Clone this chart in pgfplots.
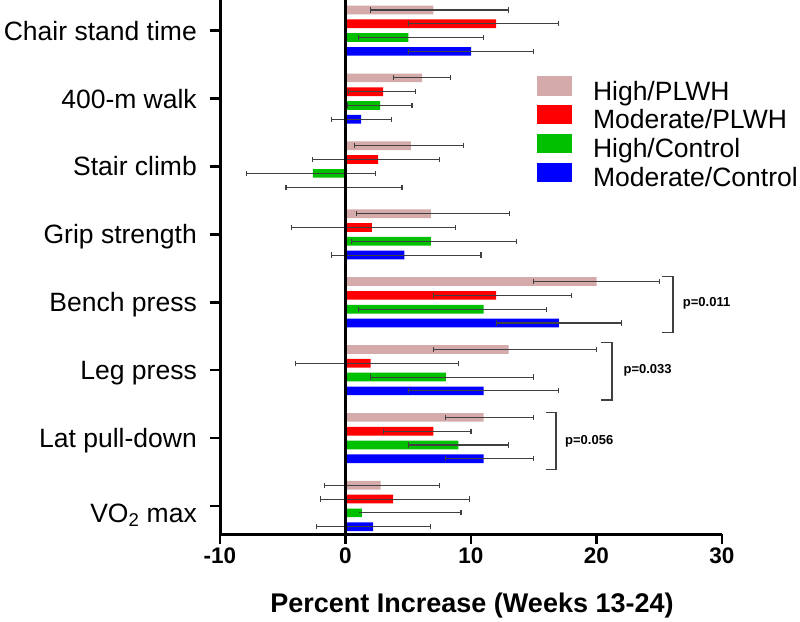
\documentclass[border=0pt]{standalone}
\usepackage{pgfplots}
\pgfplotsset{compat=1.18}
\usepackage{fontspec}
\setmainfont{Liberation Sans}
\definecolor{cpink}{RGB}{212,170,170}
\definecolor{cred}{RGB}{255,0,0}
\definecolor{cgreen}{RGB}{0,192,0}
\definecolor{cblue}{RGB}{0,0,255}
\definecolor{cerr}{RGB}{64,64,64}
\begin{document}
\begin{tikzpicture}
\path[use as bounding box] (0,0) rectangle (800pt,621pt);
\begin{axis}[
  at={(220pt,87pt)}, anchor=south west,
  scale only axis, width=502pt, height=534pt,
  xmin=-10, xmax=30, ymin=-0.413, ymax=7.452,
  clip=false,
  separate axis lines,
  axis x line*=bottom, axis y line*=left,
  axis line style={-, line width=3pt, black},
  xtick={-10,0,10,20,30},
  ytick={0,1,2,3,4,5,6,7},
  yticklabels={\raisebox{-7pt}{VO\textsubscript{2} max},Lat pull-down,Leg press,Bench press,Grip strength,Stair climb,400-m walk,Chair stand time},
  tick align=outside,
  major tick length=10pt,
  tick style={line width=2.5pt, black},
  /pgf/number format/assume math mode=true,
  xticklabel style={font=\bfseries\fontsize{22.5}{23}\selectfont},
  yticklabel style={font=\fontsize{26.5}{27}\selectfont, anchor=east, text height=19pt, text depth=0pt, inner sep=0pt, xshift=-13pt},
  xlabel={\textbf{Percent Increase (Weeks 13-24)}},
  xlabel style={font=\fontsize{27}{28}\selectfont, at={(axis description cs:0.502,-0.1474)}, anchor=base},
  xbar, bar width=8.7pt,
  error bars/x dir=both, error bars/x explicit,
  error bars/error bar style={cerr, line width=1.1pt},
  error bars/error mark options={cerr, line width=1.1pt, mark size=2.6pt, rotate=90},
  legend image code/.code={\fill[#1] (0pt,-1pt) rectangle (35pt,18.6pt);},
  legend style={at={(rel axis cs:0.6315,0.8577)}, anchor=north west, draw=none, fill=none,
    inner sep=0pt, outer sep=0pt, row sep=-4.2pt,
    font=\fontsize{26.5}{29}\selectfont,
    nodes={text height=20pt, text depth=9pt, inner sep=0pt, anchor=west},
    /tikz/every odd column/.append style={column sep=21pt}},
  legend cell align=left,
]
\addplot[fill=cpink, draw=none, bar shift=20.7pt] coordinates {
 (2.8,0) += (4.7,0) -= (4.5,0)
 (11,1) += (4,0) -= (3,0)
 (13,2) += (7,0) -= (6,0)
 (20,3) += (5,0) -= (5,0)
 (6.8,4) += (6.3,0) -= (5.9,0)
 (5.2,5) += (4.2,0) -= (4.5,0)
 (6.1,6) += (2.3,0) -= (2.3,0)
 (7,7) += (6,0) -= (5,0)
};
\addlegendentry{High/PLWH}
\addplot[fill=cred, draw=none, bar shift=6.9pt] coordinates {
 (3.8,0) += (6.1,0) -= (5.8,0)
 (7,1) += (3,0) -= (4,0)
 (2,2) += (7,0) -= (6,0)
 (12,3) += (6,0) -= (5,0)
 (2.1,4) += (6.7,0) -= (6.4,0)
 (2.6,5) += (4.9,0) -= (5.2,0)
 (3,6) += (2.6,0) -= (2.75,0)
 (12,7) += (5,0) -= (7,0)
};
\addlegendentry{Moderate/PLWH}
\addplot[fill=cgreen, draw=none, bar shift=-6.9pt] coordinates {
 (1.3,0) += (7.9,0) -= (0,0)
 (9,1) += (4,0) -= (4,0)
 (8,2) += (7,0) -= (6,0)
 (11,3) += (5,0) -= (10,0)
 (6.8,4) += (6.8,0) -= (6.3,0)
 (-2.6,5) += (5,0) -= (5.3,0)
 (2.75,6) += (2.55,0) -= (2.6,0)
 (5,7) += (6,0) -= (4,0)
};
\addlegendentry{High/Control}
\addplot[fill=cblue, draw=none, bar shift=-20.7pt] coordinates {
 (2.2,0) += (4.6,0) -= (4.5,0)
 (11,1) += (4,0) -= (3,0)
 (11,2) += (6,0) -= (6,0)
 (17,3) += (5,0) -= (5,0)
 (4.7,4) += (6.1,0) -= (5.8,0)
 (-0.1,5) += (4.6,0) -= (4.64,0)
 (1.25,6) += (2.4,0) -= (2.4,0)
 (10,7) += (5,0) -= (5,0)
};
\addlegendentry{Moderate/Control}
\draw[black, line width=3pt] (axis cs:0,-0.413) -- (axis cs:0,7.452);
\draw[cerr, line width=1.2pt] (axis cs:25.2,3.377) -- (axis cs:26.1,3.377) -- (axis cs:26.1,2.552) -- (axis cs:25.2,2.552);
\draw[cerr, line width=1.2pt] (axis cs:20.36,2.405) -- (axis cs:21.24,2.405) -- (axis cs:21.24,1.561) -- (axis cs:20.36,1.561);
\draw[cerr, line width=1.2pt] (axis cs:15.95,1.373) -- (axis cs:16.77,1.373) -- (axis cs:16.77,0.539) -- (axis cs:15.95,0.539);
\node[anchor=west, font=\bfseries\fontsize{13}{13}\selectfont, inner sep=0pt] at (axis cs:26.87,2.99) {p=0.011};
\node[anchor=west, font=\bfseries\fontsize{13}{13}\selectfont, inner sep=0pt] at (axis cs:22.14,2.0) {p=0.033};
\node[anchor=west, font=\bfseries\fontsize{13}{13}\selectfont, inner sep=0pt] at (axis cs:17.49,0.95) {p=0.056};
\end{axis}
\end{tikzpicture}
\end{document}
